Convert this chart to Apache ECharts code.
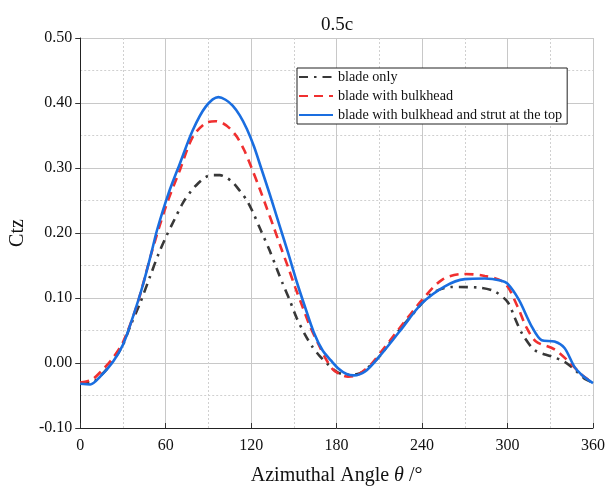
<!DOCTYPE html>
<html><head><meta charset="utf-8">
<script src="https://cdn.jsdelivr.net/npm/echarts@6/dist/echarts.min.js"></script>
<style>html,body{margin:0;padding:0;background:#fff}#c{width:608px;height:491px}</style>
</head><body><div id="c"></div>
<script>
const seriesNames = ['blade only', 'blade with bulkhead', 'blade with bulkhead and strut at the top'];
const xTicks = [0, 60, 120, 180, 240, 300, 360];
const yTicks = [-0.10, 0.00, 0.10, 0.20, 0.30, 0.40, 0.50];

const thetaBlade = [0, 8, 15, 22, 30, 35, 42, 49, 55, 60, 66, 72, 78, 83, 88, 93, 98, 102, 107, 112, 117, 121, 127, 133, 138, 142, 147, 152, 158, 163, 168, 173, 179, 186, 192, 198, 204, 210, 222, 233, 247, 261, 280, 291, 300, 305, 310, 319, 331, 340, 347, 354, 360];
const ctzBlade = [-0.031, -0.030, -0.018, 0.000, 0.028, 0.056, 0.092, 0.133, 0.168, 0.193, 0.220, 0.246, 0.265, 0.277, 0.286, 0.289, 0.289, 0.286, 0.278, 0.265, 0.250, 0.233, 0.203, 0.173, 0.145, 0.123, 0.097, 0.069, 0.043, 0.025, 0.011, 0.000, -0.012, -0.018, -0.018, -0.014, -0.003, 0.010, 0.045, 0.074, 0.107, 0.117, 0.116, 0.110, 0.094, 0.070, 0.046, 0.020, 0.010, 0.002, -0.010, -0.024, -0.030];

const thetaBulk = [0, 8, 15, 22, 30, 40, 50, 60, 70, 79, 88, 95, 100, 105, 110, 115, 120, 126, 131, 136, 141, 146, 151, 156, 161, 167, 172, 177, 182, 188, 194, 200, 205, 224, 240, 254, 269, 284, 298, 307, 313, 320, 333, 344, 352, 360];
const ctzBulk = [-0.030, -0.026, -0.012, 0.005, 0.032, 0.090, 0.169, 0.240, 0.297, 0.348, 0.369, 0.372, 0.369, 0.361, 0.348, 0.328, 0.302, 0.268, 0.238, 0.208, 0.177, 0.147, 0.116, 0.087, 0.058, 0.030, 0.008, -0.009, -0.017, -0.021, -0.019, -0.010, 0.000, 0.053, 0.097, 0.128, 0.137, 0.134, 0.123, 0.087, 0.056, 0.033, 0.021, 0.000, -0.018, -0.030];

const thetaStrut = [0, 7, 14, 23, 30, 37, 44, 50, 54, 62, 70, 79, 88, 97, 102, 107, 112, 117, 122, 127, 133, 140, 146, 152, 158, 164, 170, 176, 181, 187, 192, 200, 210, 224, 240, 256, 270, 284, 295, 300, 308, 317, 324, 333, 340, 347, 353, 360];
const ctzStrut = [-0.032, -0.033, -0.021, 0.002, 0.028, 0.071, 0.120, 0.170, 0.205, 0.261, 0.307, 0.358, 0.394, 0.409, 0.405, 0.396, 0.381, 0.360, 0.333, 0.300, 0.260, 0.211, 0.169, 0.125, 0.085, 0.047, 0.020, 0.004, -0.008, -0.017, -0.019, -0.013, 0.010, 0.048, 0.092, 0.118, 0.129, 0.130, 0.127, 0.122, 0.097, 0.056, 0.035, 0.033, 0.023, -0.006, -0.020, -0.031];

const zip = (xs, ys) => xs.map((x, i) => [x, ys[i]]);
const serif = '"Liberation Serif", "Times New Roman", serif';

const chart = echarts.init(document.getElementById('c'), null, {renderer: 'canvas'});
chart.setOption({
  animation: false,
  backgroundColor: '#fff',
  title: {text: '0.5c', left: 332, top: 11, textAlign: 'center',
    textStyle: {fontFamily: serif, fontSize: 19, fontWeight: 'normal', color: '#111'}},
  grid: {left: 80, right: 13, top: 38, bottom: 63},
  legend: {
    orient: 'vertical', left: 297, top: 68,
    data: seriesNames,
    itemWidth: 34, itemHeight: 14, itemGap: 5,
    padding: [2, 5, 2, 1],
    borderColor: '#222', borderWidth: 1, backgroundColor: '#fff',
    itemStyle: {opacity: 0},
    textStyle: {fontFamily: serif, fontSize: 14.2, lineHeight: 14, color: '#111'}
  },
  xAxis: {
    type: 'value', min: xTicks[0], max: xTicks[xTicks.length - 1], interval: 60,
    name: 'Azimuthal Angle {i|θ} /°', nameLocation: 'middle', nameGap: 38,
    nameTextStyle: {fontFamily: serif, fontSize: 20, color: '#111',
      rich: {i: {fontFamily: serif, fontSize: 20, fontStyle: 'italic', color: '#111'}}},
    axisLine: {show: true, onZero: false, lineStyle: {color: '#222', width: 1}},
    axisTick: {show: true, inside: true, length: 5, lineStyle: {color: '#333'}},
    axisLabel: {fontFamily: serif, fontSize: 16, color: '#111', margin: 10},
    splitLine: {show: true, lineStyle: {color: '#c8c8c8', width: 1}},
    minorTick: {show: false, splitNumber: 2},
    minorSplitLine: {show: true, lineStyle: {color: '#d0d0d0', type: [2, 2], width: 1}}
  },
  yAxis: {
    type: 'value', min: yTicks[0], max: yTicks[yTicks.length - 1], interval: 0.1,
    name: 'Ctz', nameLocation: 'middle', nameGap: 46, nameRotate: 90,
    nameTextStyle: {fontFamily: serif, fontSize: 20, color: '#111'},
    axisLine: {show: true, onZero: false, lineStyle: {color: '#222', width: 1}},
    axisTick: {show: true, inside: false, length: 5, lineStyle: {color: '#333'}},
    axisLabel: {fontFamily: serif, fontSize: 16, color: '#111', margin: 8,
      formatter: v => v.toFixed(2)},
    splitLine: {show: true, lineStyle: {color: '#c8c8c8', width: 1}},
    minorTick: {show: false, splitNumber: 2},
    minorSplitLine: {show: true, lineStyle: {color: '#d0d0d0', type: [2, 2], width: 1}}
  },
  series: [
    {name: seriesNames[0], type: 'line', smooth: 0.3, symbol: 'none', z: 3,
      data: zip(thetaBlade, ctzBlade),
      lineStyle: {color: '#383838', width: 2.6, type: [9, 6, 2.5, 6]},
      itemStyle: {color: '#383838'}},
    {name: seriesNames[1], type: 'line', smooth: 0.3, symbol: 'none', z: 4,
      data: zip(thetaBulk, ctzBulk),
      lineStyle: {color: '#f03030', width: 2.6, type: [9, 6]},
      itemStyle: {color: '#f03030'}},
    {name: seriesNames[2], type: 'line', smooth: 0.3, symbol: 'none', z: 5,
      data: zip(thetaStrut, ctzStrut),
      lineStyle: {color: '#1a6ee0', width: 2.6, type: 'solid'},
      itemStyle: {color: '#1a6ee0'}}
  ]
});
</script></body></html>
